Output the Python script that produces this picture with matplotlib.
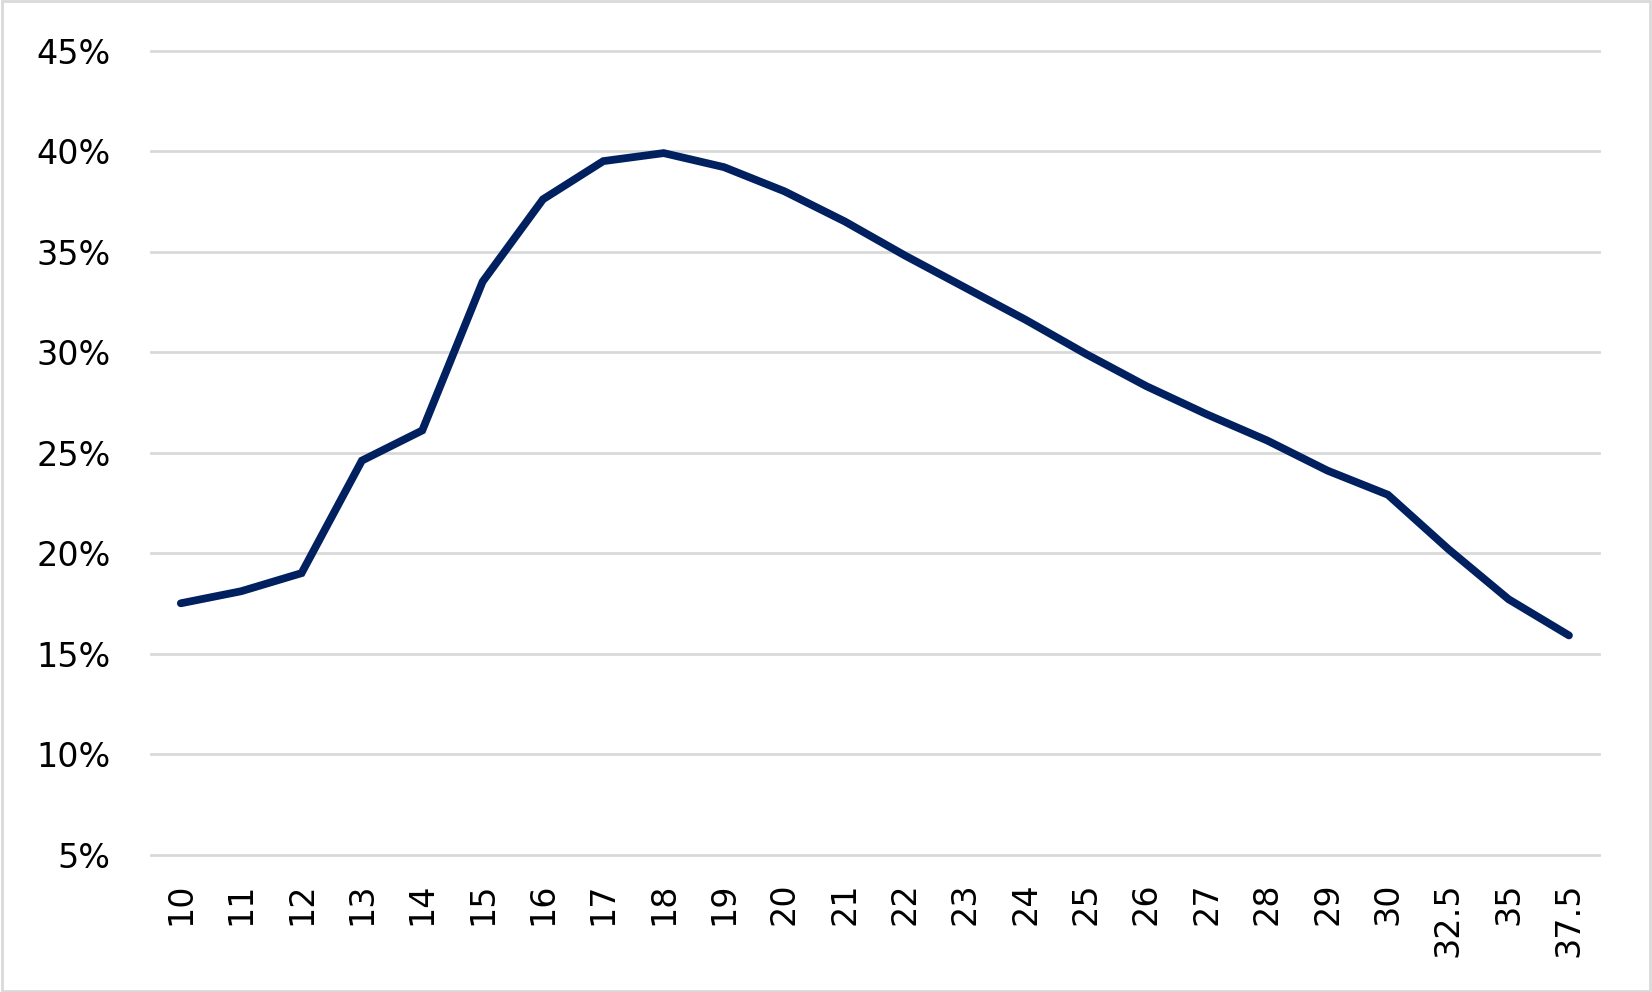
import matplotlib
matplotlib.use("Agg")
import matplotlib.pyplot as plt
from matplotlib.patches import Rectangle

categories = ["10", "11", "12", "13", "14", "15", "16", "17", "18", "19", "20",
              "21", "22", "23", "24", "25", "26", "27", "28", "29", "30",
              "32.5", "35", "37.5"]
values = [17.5, 18.1, 19.0, 24.6, 26.1, 33.5, 37.6, 39.5, 39.9, 39.2, 38.0,
          36.5, 34.8, 33.2, 31.6, 29.9, 28.3, 26.9, 25.6, 24.1, 22.9,
          20.2, 17.7, 15.9]
y_ticks = [5, 10, 15, 20, 25, 30, 35, 40, 45]
y_labels = [f"{t}%" for t in y_ticks]

plt.rcParams['font.family'] = ['DejaVu Sans']

fig = plt.figure(figsize=(16.52, 9.92), dpi=100)
ax = fig.add_axes([0.0912, 0.1386, 0.968 - 0.0912, 0.949 - 0.1386])

x = list(range(len(categories)))
ax.plot(x, values, color="#002060", linewidth=5.6, solid_capstyle="round",
        solid_joinstyle="miter", zorder=3)

ax.set_xlim(-0.5, len(categories) - 0.5)
ax.set_ylim(5, 45)
ax.set_yticks(y_ticks)
ax.set_yticklabels(y_labels, fontsize=24)
ax.set_xticks(x)
ax.set_xticklabels(categories, rotation=90, fontsize=24)
ax.tick_params(axis="both", length=0, colors="black")
ax.tick_params(axis="y", pad=29)
ax.tick_params(axis="x", pad=20)
ax.grid(axis="y", color="#d9d9d9", linewidth=2, zorder=0)
ax.set_axisbelow(True)
for gl in ax.get_ygridlines():
    gl.set_clip_on(False)
for s in ax.spines.values():
    s.set_visible(False)

fig.patches.append(Rectangle((0.001, 0.001), 0.998, 0.998, transform=fig.transFigure,
                             fill=False, edgecolor="#d9d9d9", linewidth=2))

fig.savefig("out.png", dpi=100)
